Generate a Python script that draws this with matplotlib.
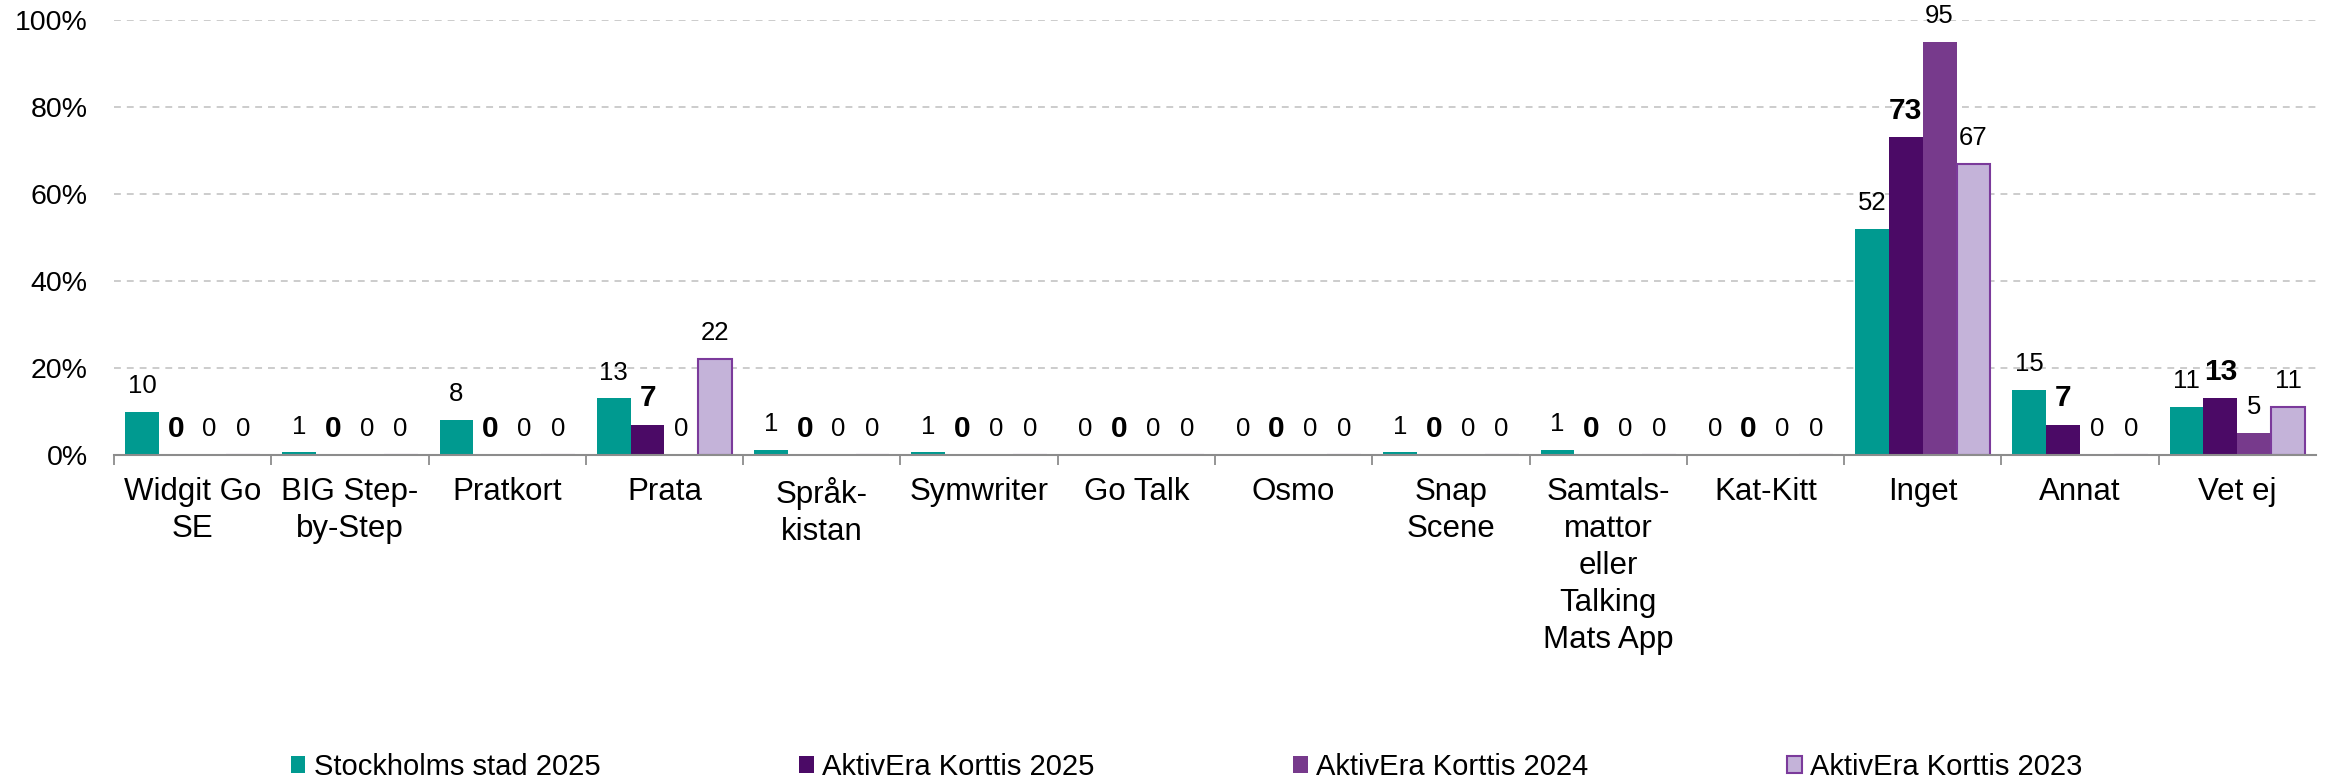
import numpy as np
import matplotlib
matplotlib.use("Agg")
import matplotlib.pyplot as plt
from matplotlib.ticker import FixedLocator, PercentFormatter

plt.rcParams['font.family'] = ['Liberation Sans', 'DejaVu Sans']

categories = ["Widgit Go\nSE", "BIG Step-\nby-Step", "Pratkort", "Prata",
              "Språk-\nkistan", "Symwriter", "Go Talk", "Osmo", "Snap\nScene",
              "Samtals-\nmattor\neller\nTalking\nMats App", "Kat-Kitt",
              "Inget", "Annat", "Vet ej"]
series_names = ["Stockholms stad 2025", "AktivEra Korttis 2025",
                "AktivEra Korttis 2024", "AktivEra Korttis 2023"]
stockholm_2025 = [10, 0.6, 8, 13, 1.2, 0.6, 0, 0, 0.6, 1.2, 0, 52, 15, 11]
korttis_2025 = [0, 0, 0, 7, 0, 0, 0, 0, 0, 0, 0, 73, 7, 13]
korttis_2024 = [0, 0, 0, 0, 0, 0, 0, 0, 0, 0, 0, 95, 0, 5]
korttis_2023 = [0, 0, 0, 22, 0, 0, 0, 0, 0, 0, 0, 67, 0, 11]
yticks = [0, 20, 40, 60, 80, 100]

colors = ["#009A90", "#4B0A66", "#773A8C", "#C4B3D9"]
edges = ["none", "none", "none", "#7B3A9B"]
all_series = [stockholm_2025, korttis_2025, korttis_2024, korttis_2023]

fig = plt.figure(figsize=(23.36, 7.79), dpi=100)
ax = fig.add_axes([0.0488, 0.4159, 0.9426, 0.5584])

x = np.arange(len(categories))
w = 0.215
for i, (vals, name) in enumerate(zip(all_series, series_names)):
    pos = x + (i - 1.5) * w
    ax.bar(pos, vals, width=w, color=colors[i], edgecolor=edges[i],
           linewidth=1.5 if i == 3 else 0, label=name, zorder=3)
    for px, v in zip(pos, vals):
        txt = str(int(v + 0.5))
        if i == 1:
            ax.annotate(txt, (px, v), xytext=(0, 9), textcoords="offset points",
                        ha="center", va="bottom", fontsize=21.5, fontweight="bold")
        else:
            ax.annotate(txt, (px, v), xytext=(0, 10), textcoords="offset points",
                        ha="center", va="bottom", fontsize=18.5)

ax.set_xlim(-0.5, len(categories) - 0.5)
ax.set_ylim(0, 100)
ax.yaxis.set_major_locator(FixedLocator(yticks))
ax.yaxis.set_major_formatter(PercentFormatter(decimals=0))
ax.tick_params(axis="y", length=0, pad=19, labelsize=20.5)
ax.yaxis.grid(True, color="#BFBFBF", linewidth=1.1, linestyle=(0, (4.5, 3.9)), zorder=0)

ax.set_xticks(x)
ax.set_xticklabels(categories, fontsize=22.5, linespacing=1.3)
ax.tick_params(axis="x", which="major", length=0, pad=16)
ax.set_xticks(np.arange(-0.5, len(categories) - 1), minor=True)
ax.tick_params(axis="x", which="minor", length=7, width=1.3, color="#8C8C8C")

for s in ["top", "right", "left"]:
    ax.spines[s].set_visible(False)
ax.spines["bottom"].set_color("#8C8C8C")
ax.spines["bottom"].set_linewidth(1.5)
ax.spines["bottom"].set_zorder(4)

handles, labels = ax.get_legend_handles_labels()
fig.legend(handles, labels, loc="lower center", bbox_to_anchor=(0.508, -0.036),
           ncol=4, frameon=False, fontsize=21, handlelength=0.5, handleheight=0.5,
           handletextpad=0.3, columnspacing=6.8)

fig.savefig("out.png", dpi=100)
